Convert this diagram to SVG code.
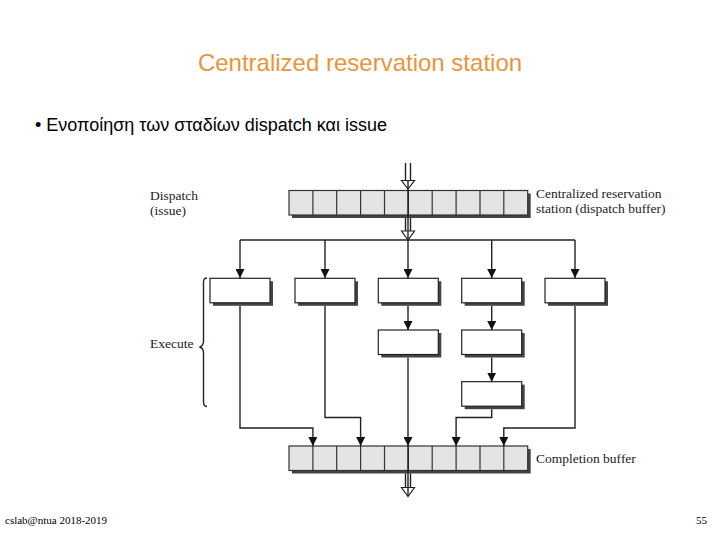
<svg xmlns="http://www.w3.org/2000/svg" width="720" height="540" viewBox="0 0 720 540">
<style>
.lbl{font-family:"Liberation Serif","Times New Roman",serif;font-size:13.5px;fill:#222}
.ln{fill:none;stroke:#222;stroke-width:1.4}
.hollow{fill:#fff;stroke:#222;stroke-width:1.2}
.sh{fill:#444;stroke:none}
.box{fill:#fff;stroke:#222;stroke-width:1.2}
.cell{fill:#e4e4e4;stroke:#333;stroke-width:1.2}
.div{stroke:#333;stroke-width:1.2;fill:none}
</style>
<defs>
<marker id="ah" viewBox="0 0 10 10" refX="10" refY="5" markerWidth="9" markerHeight="9" markerUnits="userSpaceOnUse" orient="auto">
<path d="M0,0 L10,5 L0,10 z" fill="#111"/>
</marker>
</defs>
<rect width="720" height="540" fill="#fff"/>
<text x="360" y="71" text-anchor="middle" font-family="'Liberation Sans',Arial,sans-serif" font-size="24" fill="#E8953C">Centralized reservation station</text>
<text x="35" y="131" font-family="'Liberation Sans',Arial,sans-serif" font-size="18" fill="#000">• Ενοποίηση των σταδίων dispatch και issue</text>
<text x="5" y="524" font-family="'Liberation Serif','Times New Roman',serif" font-size="11" fill="#000">cslab@ntua 2018-2019</text>
<text x="707" y="524" text-anchor="end" font-family="'Liberation Serif','Times New Roman',serif" font-size="11" fill="#000">55</text>

<g id="rs-buffer">
<rect class="sh" x="292" y="193.5" width="238.7" height="24.5"/>
<rect class="cell" x="289" y="190.5" width="238.7" height="24.5"/>
<path class="div" d="M312.9,190.5V215M336.7,190.5V215M360.6,190.5V215M384.5,190.5V215M408.4,190.5V215M432.2,190.5V215M456.1,190.5V215M480,190.5V215M503.8,190.5V215"/>
<text class="lbl" x="536" y="198">Centralized reservation</text>
<text class="lbl" x="536" y="213">station (dispatch buffer)</text>
</g>
<g id="dispatch-label">
<text class="lbl" x="150" y="200">Dispatch</text>
<text class="lbl" x="150" y="215">(issue)</text>
</g>
<g id="completion-buffer">
<rect class="sh" x="292" y="449" width="238.7" height="24.5"/>
<rect class="cell" x="289" y="446" width="238.7" height="24.5"/>
<path class="div" d="M312.9,446V470.5M336.7,446V470.5M360.6,446V470.5M384.5,446V470.5M408.4,446V470.5M432.2,446V470.5M456.1,446V470.5M480,446V470.5M503.8,446V470.5"/>
<text class="lbl" x="536" y="463">Completion buffer</text>
</g>
<g id="execute-label">
<text class="lbl" x="150" y="348">Execute</text>
<path class="ln" stroke-width="1" d="M207,278 Q203.5,278 203.5,282 V341 Q203.5,346 199.5,347 Q203.5,348 203.5,353 V402 Q203.5,406.5 207,406.5"/>
</g>
<g id="fu1"><rect class="sh" x="213" y="281.3" width="60" height="24.5"/><rect class="box" x="210" y="278.3" width="60" height="24.5"/></g>
<g id="fu2"><rect class="sh" x="298" y="281.3" width="60" height="24.5"/><rect class="box" x="295" y="278.3" width="60" height="24.5"/></g>
<g id="fu3"><rect class="sh" x="381.3" y="281.3" width="60" height="24.5"/><rect class="box" x="378.3" y="278.3" width="60" height="24.5"/></g>
<g id="fu4"><rect class="sh" x="464.7" y="281.3" width="60" height="24.5"/><rect class="box" x="461.7" y="278.3" width="60" height="24.5"/></g>
<g id="fu5"><rect class="sh" x="548" y="281.3" width="60" height="24.5"/><rect class="box" x="545" y="278.3" width="60" height="24.5"/></g>
<g id="fu3b"><rect class="sh" x="381.3" y="333" width="60" height="24.5"/><rect class="box" x="378.3" y="330" width="60" height="24.5"/></g>
<g id="fu4b"><rect class="sh" x="464.7" y="333" width="60" height="24.5"/><rect class="box" x="461.7" y="330" width="60" height="24.5"/></g>
<g id="fu4c"><rect class="sh" x="464.7" y="384.7" width="60" height="24.5"/><rect class="box" x="461.7" y="381.7" width="60" height="24.5"/></g>

<g id="connectors">
<path class="ln" d="M405.5,163V181M410.5,163V181"/>
<path class="hollow" d="M401.5,180.5H414.5L408,189Z"/>
<path class="ln" d="M405.5,218V231M410.5,218V231"/>
<path class="hollow" d="M401.5,231H414.5L408,240Z"/>
<path class="ln" stroke-width="1.2" d="M408,180.5V240"/>
<path class="ln" d="M240,240H575"/>
<path class="ln" marker-end="url(#ah)" d="M240,240V278"/>
<path class="ln" marker-end="url(#ah)" d="M325,240V278"/>
<path class="ln" marker-end="url(#ah)" d="M408,240V278"/>
<path class="ln" marker-end="url(#ah)" d="M491.7,240V278"/>
<path class="ln" marker-end="url(#ah)" d="M575,240V278"/>
<path class="ln" marker-end="url(#ah)" d="M408,306V330"/>
<path class="ln" marker-end="url(#ah)" d="M491.7,306V330"/>
<path class="ln" marker-end="url(#ah)" d="M491.7,357.5V381.7"/>
<path class="ln" marker-end="url(#ah)" d="M240,306V428H312.9V446"/>
<path class="ln" marker-end="url(#ah)" d="M325,306V417.5H360.6V446"/>
<path class="ln" marker-end="url(#ah)" d="M408,357.5V446"/>
<path class="ln" marker-end="url(#ah)" d="M491.7,409.2V417.5H456.1V446"/>
<path class="ln" marker-end="url(#ah)" d="M575,306V428H503.8V446"/>
<path class="ln" d="M405.5,473.5V488M410.5,473.5V488"/>
<path class="hollow" d="M401.5,487.5H414.5L408,496.5Z"/>
<path class="ln" stroke-width="1.2" d="M408,446V496"/>
</g>
</svg>
